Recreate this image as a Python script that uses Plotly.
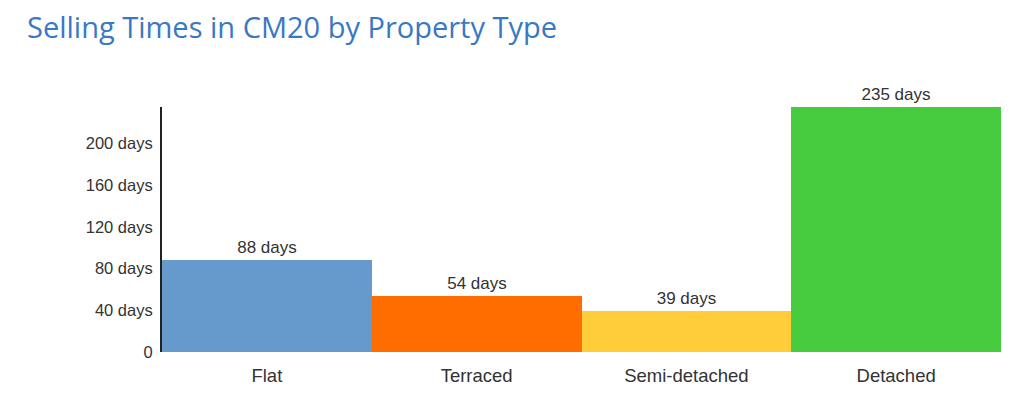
"""Bar chart: selling times in CM20 by property type"""
import plotly.graph_objects as go

property_types = ['Flat', 'Terraced', 'Semi-detached', 'Detached']
selling_days = [88, 54, 39, 235]
bar_labels = ['88 days', '54 days', '39 days', '235 days']
bar_colors = ['#6699cc', '#ff6d00', '#ffcc3a', '#46cc3e']

y_tickvals = [0, 40, 80, 120, 160, 200]
y_ticktext = ['0', '40 days', '80 days', '120 days', '160 days', '200 days']

# the page body adds an 8px offset, so the figure is a bit smaller than the window
W, H = 1016, 407

fig = go.Figure()

fig.add_trace(go.Bar(
    x=property_types,
    y=selling_days,
    text=bar_labels,
    textposition='outside',
    textfont=dict(family='Liberation Sans, Arial, sans-serif', size=17, color='#333333'),
    cliponaxis=False,
    marker=dict(color=bar_colors, line=dict(width=0)),
    hoverinfo='x+y',
))

fig.update_layout(
    width=W,
    height=H,
    margin=dict(l=154, r=23, t=99, b=63),
    paper_bgcolor='white',
    plot_bgcolor='white',
    bargap=0,
    showlegend=False,
    font=dict(family='Liberation Sans, Arial, sans-serif', size=16, color='#333333'),
    title=dict(
        text='Selling Times in CM20 by Property Type',
        x=19 / W,
        xanchor='left',
        xref='container',
        y=1 - 20 / H,
        yanchor='middle',
        yref='container',
        font=dict(family='Open Sans, sans-serif', size=29, color='#3878c4', weight=500),
    ),
    xaxis=dict(
        showgrid=False,
        showline=False,
        zeroline=False,
        ticks='',
        tickfont=dict(size=18.5, color='#333333'),
        ticklabelstandoff=10,
    ),
    yaxis=dict(
        range=[0, 235],
        showgrid=False,
        zeroline=False,
        showline=True,
        linecolor='#222222',
        linewidth=2,
        ticks='',
        tickvals=y_tickvals,
        ticktext=y_ticktext,
        tickfont=dict(size=16.5, color='#333333'),
        ticklabelstandoff=4,
    ),
)

fig.write_html("out.html")
